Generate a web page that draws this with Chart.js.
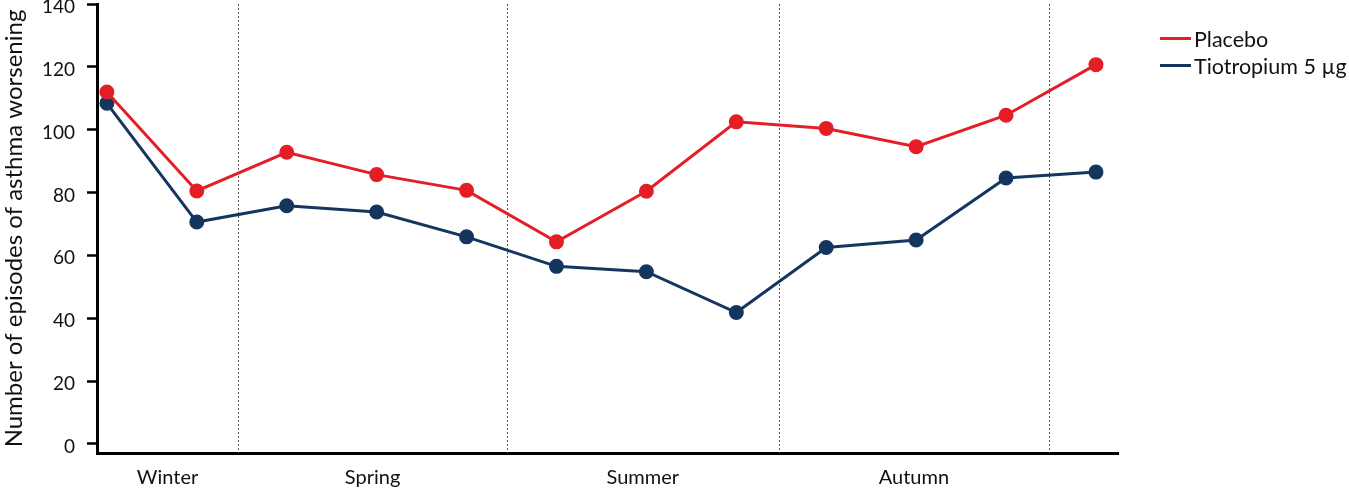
<!DOCTYPE html>
<html lang="en">
<head>
    <meta charset="UTF-8">
    <title>Asthma worsening by season</title>
    <script src="https://cdnjs.cloudflare.com/ajax/libs/Chart.js/4.4.1/chart.umd.min.js"></script>
    <style>
        body {
            margin: 0;
            background: #fff;
            font-family: Lato, 'Open Sans', sans-serif;
            overflow: hidden;
        }

        .wrap {
            position: relative;
            width: 1349px;
            height: 494px;
            overflow: hidden;
        }

        #chart {
            position: absolute;
            left: 0;
            top: -5px;
        }

        .legend {
            position: absolute;
            left: 1160px;
            top: 25px;
            font-size: 21.5px;
            color: #111;
        }

        .legend-item {
            display: flex;
            align-items: center;
            height: 27px;
        }

        .legend-line {
            width: 31px;
            height: 3px;
            margin-right: 3px;
        }
    </style>
</head>
<body>
    <div class="wrap">
        <canvas id="chart" width="1349" height="499"></canvas>
        <div class="legend">
            <div class="legend-item"><span class="legend-line" style="background:#e41e26"></span>Placebo</div>
            <div class="legend-item"><span class="legend-line" style="background:#14365e"></span>Tiotropium 5 µg</div>
        </div>
    </div>

    <script>
        // data
        const monthIndex = [1, 2, 3, 4, 5, 6, 7, 8, 9, 10, 11, 12];
        const placebo = [112, 80.5, 92.8, 85.7, 80.7, 64.3, 80.4, 102.5, 100.4, 94.6, 104.6, 120.7];
        const tiotropium = [108.4, 70.6, 75.8, 73.8, 65.9, 56.5, 54.8, 41.8, 62.5, 64.9, 84.6, 86.5];
        const seasons = ['Winter', 'Spring', 'Summer', 'Autumn'];
        const seasonDividers = [2.46, 5.45, 8.47, 11.48];
        const yTicks = [0, 20, 40, 60, 80, 100, 120, 140];

        const xMin = 0.89;
        const xMax = 12.245;

        // season labels sit in the middle of each divided band
        const bandEdges = [xMin].concat(seasonDividers);
        const seasonCenters = seasons.map((s, i) => (bandEdges[i] + bandEdges[i + 1]) / 2);

        const RED = '#e41e26';
        const NAVY = '#14365e';
        const FONT = 'Lato, "Open Sans", sans-serif';

        const dividerLines = {
            id: 'dividerLines',
            beforeDatasetsDraw(chart) {
                const { ctx, chartArea, scales } = chart;
                ctx.save();
                ctx.strokeStyle = '#555';
                ctx.lineWidth = 1;
                ctx.setLineDash([2, 2]);
                seasonDividers.forEach(v => {
                    const px = Math.round(scales.x.getPixelForValue(v)) + 0.5;
                    ctx.beginPath();
                    ctx.moveTo(px, chartArea.top);
                    ctx.lineTo(px, chartArea.bottom);
                    ctx.stroke();
                });
                ctx.restore();
            }
        };

        const toPoints = arr => arr.map((v, i) => ({ x: monthIndex[i], y: v }));

        new Chart(document.getElementById('chart'), {
            type: 'line',
            data: {
                datasets: [{
                    label: 'Placebo',
                    data: toPoints(placebo),
                    borderColor: RED,
                    backgroundColor: RED,
                    borderWidth: 3,
                    pointRadius: 6,
                    pointHoverRadius: 6,
                    tension: 0
                }, {
                    label: 'Tiotropium 5 µg',
                    data: toPoints(tiotropium),
                    borderColor: NAVY,
                    backgroundColor: NAVY,
                    borderWidth: 3,
                    pointRadius: 6,
                    pointHoverRadius: 6,
                    tension: 0
                }]
            },
            options: {
                responsive: false,
                animation: false,
                layout: { padding: { top: 0, right: 231 } },
                plugins: {
                    legend: { display: false },
                    tooltip: { enabled: false }
                },
                scales: {
                    x: {
                        type: 'linear',
                        min: xMin,
                        max: xMax,
                        afterBuildTicks: scale => {
                            scale.ticks = seasonCenters.map(v => ({ value: v }));
                        },
                        afterFit: scale => { scale.height = 41; },
                        ticks: {
                            callback: (v, i) => seasons[i],
                            color: '#111',
                            font: { family: FONT, size: 20 },
                            padding: 5,
                            maxRotation: 0,
                            autoSkip: false
                        },
                        grid: { display: false },
                        border: { color: '#000', width: 3 }
                    },
                    y: {
                        min: -2.9,
                        max: 140,
                        afterBuildTicks: scale => {
                            scale.ticks = yTicks.map(v => ({ value: v }));
                        },
                        afterFit: scale => {
                            scale.width = 97;
                            scale.paddingTop = 0;
                        },
                        ticks: {
                            color: '#111',
                            font: { family: FONT, size: 19 },
                            padding: 12,
                            labelOffset: 3
                        },
                        grid: {
                            drawOnChartArea: false,
                            tickLength: 10,
                            tickWidth: 2.5,
                            tickColor: '#000'
                        },
                        border: { color: '#000', width: 3 },
                        title: {
                            display: true,
                            text: 'Number of episodes of asthma worsening',
                            color: '#111',
                            font: { family: FONT, size: 24 },
                            padding: 0
                        }
                    }
                }
            },
            plugins: [dividerLines]
        });
    </script>
</body>
</html>
